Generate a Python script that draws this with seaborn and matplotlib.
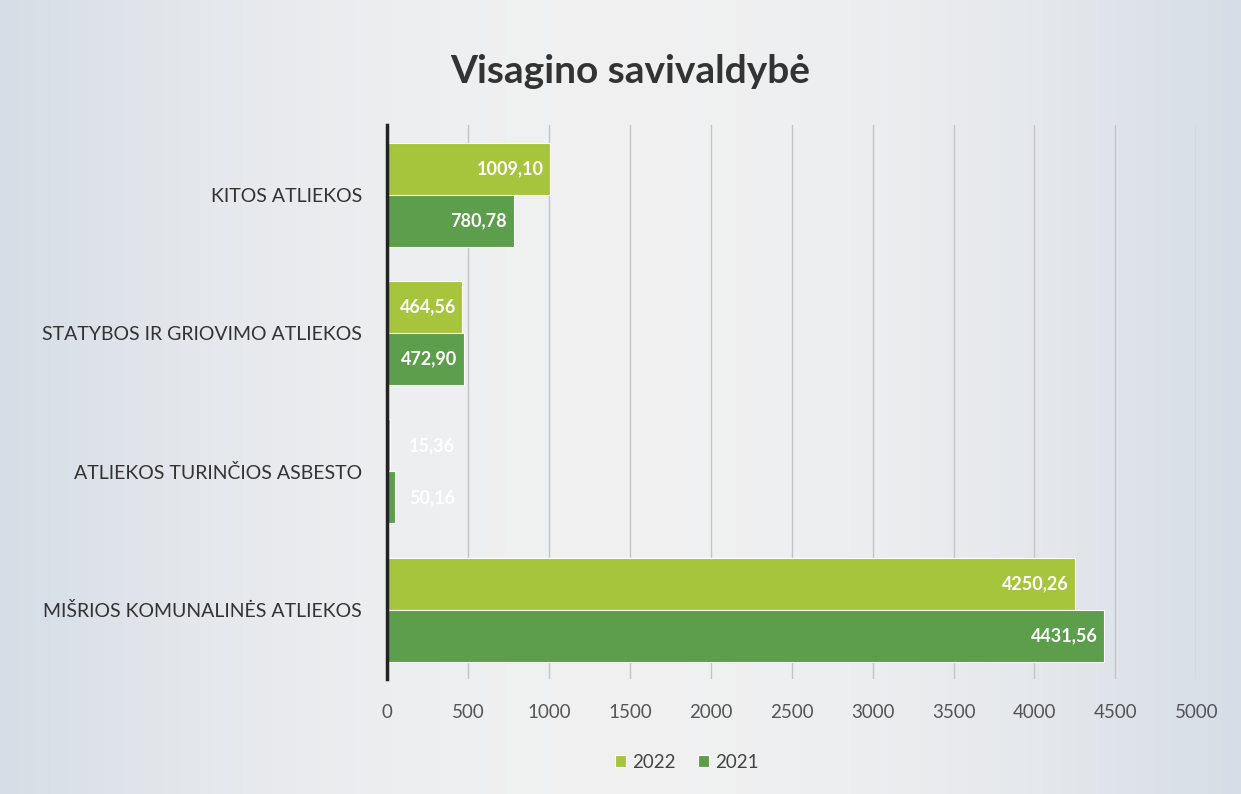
import numpy as np
import pandas as pd
import seaborn as sns
import matplotlib.pyplot as plt

# Values (tonnes)
categories = ['KITOS ATLIEKOS', 'STATYBOS IR GRIOVIMO ATLIEKOS',
              'ATLIEKOS TURINČIOS ASBESTO', 'MIŠRIOS KOMUNALINĖS ATLIEKOS']
years = ['2022', '2021']
values_2022 = [1009.10, 464.56, 15.36, 4250.26]
values_2021 = [780.78, 472.90, 50.16, 4431.56]
x_ticks = [0, 500, 1000, 1500, 2000, 2500, 3000, 3500, 4000, 4500, 5000]

df = pd.DataFrame({
    'kategorija': categories * 2,
    'metai': ['2022'] * len(categories) + ['2021'] * len(categories),
    'kiekis': values_2022 + values_2021,
})

sns.set_style('white')
plt.rcParams['font.family'] = ['Lato', 'DejaVu Sans']

fig = plt.figure(figsize=(12.41, 7.94), dpi=100)
fig.patch.set_facecolor('#eef1f4')

# soft background gradient (light edges, white middle)
bg = fig.add_axes([0, 0, 1, 1], zorder=-1)
grad = 1 - np.abs(np.linspace(-1, 1, 400)) ** 2
bg.imshow(grad[None, :], aspect='auto', cmap=sns.light_palette('#d6dde6', reverse=True, as_cmap=True),
          extent=[0, 1, 0, 1], vmin=0, vmax=1)
bg.axis('off')

ax = fig.add_axes([0.312, 0.145, 0.652, 0.697])
ax.patch.set_alpha(0)

palette = {'2022': '#a6c43c', '2021': '#5c9e4b'}
sns.barplot(data=df, y='kategorija', x='kiekis', hue='metai', hue_order=years,
            palette=palette, orient='h', width=0.75, ax=ax, saturation=1,
            edgecolor='white', linewidth=0.8, zorder=3)

ax.set_xlim(0, 5000)
ax.set_xticks(x_ticks)
ax.set_xticklabels([str(t) for t in x_ticks], color='#555555', fontsize=13.5)
ax.tick_params(axis='y', labelsize=14, colors='#333333', length=0, pad=18)
ax.tick_params(axis='x', length=0, pad=18)
ax.set_xlabel('')
ax.set_ylabel('')
ax.grid(axis='x', color='#c4c4c4', linewidth=1, zorder=0)
for s in ['top', 'right', 'bottom']:
    ax.spines[s].set_visible(False)
ax.spines['left'].set_color('#222222')
ax.spines['left'].set_linewidth(2.5)
ax.spines['left'].set_zorder(5)

# value labels inside the bar ends (small bars: label just right of the axis)
for cont in ax.containers:
    for bar in cont:
        w = bar.get_width()
        y = bar.get_y() + bar.get_height() / 2
        txt = f'{w:.2f}'.replace('.', ',')
        ax.text(max(w - 40, 420), y, txt, ha='right', va='center', color='white',
                fontsize=13, fontweight='bold', zorder=6)

ax.legend(loc='upper center', bbox_to_anchor=(0.37, -0.105), ncol=2, frameon=False,
          fontsize=13.5, handlelength=0.6, handleheight=0.6, columnspacing=1.2,
          handletextpad=0.3, labelcolor='#444444')

fig.text(0.508, 0.91, 'Visagino savivaldybė', ha='center', va='center',
         fontsize=28, fontweight='bold', color='#333333')

fig.savefig('out.png', dpi=100, facecolor=fig.get_facecolor())
